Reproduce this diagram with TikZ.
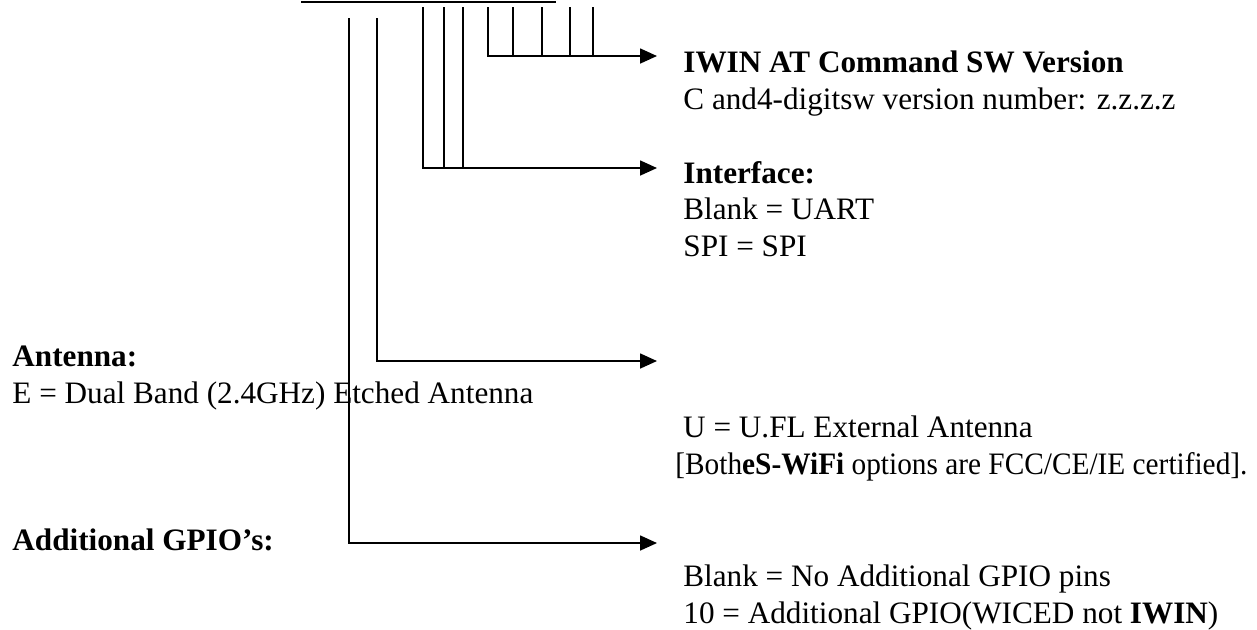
\documentclass[tikz,border=0pt]{standalone}
\usepackage{fontspec}
\setmainfont{Liberation Serif}
\usepackage{graphicx}
\usepackage{tikz}
\usetikzlibrary{arrows.meta}
\tikzset{
  txt/.style={anchor=base west,inner sep=0pt,align=left,font=\fontsize{15.6}{18.2}\selectfont},
  ln/.style={line width=0.85pt},
  arr/.style={line width=0.85pt,-{Triangle[length=8.5pt,width=7.5pt]}}
}
\begin{document}
\begin{tikzpicture}[x=0.5pt,y=-0.5pt]
\useasboundingbox (0,0) rectangle (1257,629);
\draw[ln] (301,2) -- (556,2);
%
\coordinate (gpiotop) at (349,18);
\coordinate (gpioend) at (657,543);
\coordinate (anttop) at (377,18);
\coordinate (antend) at (657,361);
\coordinate (ifend) at (657,168);
\coordinate (swend) at (657,56);
%
\draw[arr] (gpiotop) |- (gpioend);
\draw[arr] (anttop) |- (antend);
\foreach \x in {444,463} \draw[ln] (\x,7) -- (\x,168);
\draw[arr] (423,7) |- (ifend);
\foreach \x in {513,542,570,593} \draw[ln] (\x,7) -- (\x,56);
\draw[arr] (488,7) |- (swend);
%
\node[txt] (sw) at (683,109) {\textbf{IWIN AT Command SW Version}\\C and4-digitsw version number: z.z.z.z};
\node[txt] (iface) at (683,256) {\textbf{Interface:}\\Blank = UART\\SPI = SPI};
\node[txt] (ant) at (12,403) {\textbf{Antenna:}\\E = Dual Band (2.4GHz) Etched Antenna};
\node[txt] (antu) at (675,474) {\ U = U.FL External Antenna\\\scalebox{0.94}[1]{[Both\textbf{eS-WiFi} options are FCC/CE/IE certified].}};
\node[txt] (gpio) at (12,550) {\textbf{Additional GPIO's:}};
\node[txt] (gpiov) at (683,623) {Blank = No Additional GPIO pins\\10 = Additional GPIO(WICED not \textbf{IWIN})};
\end{tikzpicture}
\end{document}
